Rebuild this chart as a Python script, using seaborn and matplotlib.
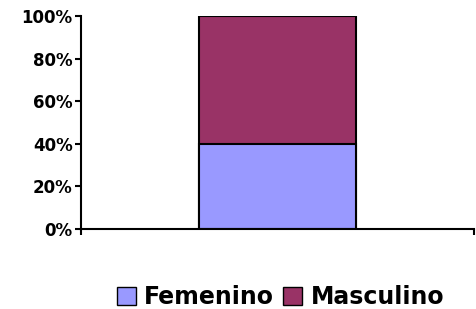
import matplotlib
matplotlib.use("Agg")
import matplotlib.pyplot as plt
import seaborn as sns
import pandas as pd
from matplotlib.patches import Patch
from matplotlib.ticker import FuncFormatter

# === Data ===
categories = [""]
femenino = [40]
masculino = [60]
series_names = ["Femenino", "Masculino"]
colors = ["#9999FF", "#993366"]
ytick_vals = [0, 20, 40, 60, 80, 100]

df = pd.DataFrame({"cat": categories, "Femenino": femenino, "Masculino": masculino})
df["total"] = df["Femenino"] + df["Masculino"]

sns.set_style("white")
plt.rcParams["font.family"] = ["DejaVu Sans"]
plt.rcParams["text.color"] = "black"
plt.rcParams["ytick.color"] = "black"
plt.rcParams["xtick.color"] = "black"

fig = plt.figure(figsize=(4.77, 3.09), dpi=100)
ax = fig.add_axes([0.170, 0.259, 0.824, 0.689])

# stacked: total first, then bottom series over it
sns.barplot(data=df, x="cat", y="total", color=colors[1], edgecolor="black",
            linewidth=1.5, width=0.4, saturation=1, ax=ax)
sns.barplot(data=df, x="cat", y="Femenino", color=colors[0], edgecolor="black",
            linewidth=1.5, width=0.4, saturation=1, ax=ax)

ax.set_xlim(-0.5, 0.5)
ax.set_ylim(0, 100)
ax.set_yticks(ytick_vals)
ax.yaxis.set_major_formatter(FuncFormatter(lambda v, p: f"{int(v)}%"))
ax.set_xticks([])
ax.set_xticks([-0.5, 0.5], minor=True)
ax.set_xlabel("")
ax.set_ylabel("")

for s in ["top", "right"]:
    ax.spines[s].set_visible(False)
for s in ["left", "bottom"]:
    ax.spines[s].set_linewidth(1.5)
    ax.spines[s].set_color("black")

ax.tick_params(axis="y", which="major", left=True, length=4, width=1.5,
               direction="out", labelsize=12, pad=2, labelcolor="black")
ax.tick_params(axis="x", which="minor", bottom=True, length=4, width=1.5, direction="out")
for lbl in ax.get_yticklabels():
    lbl.set_fontweight("bold")

handles = [Patch(facecolor=c, edgecolor="black", linewidth=1, label=n)
           for c, n in zip(colors, series_names)]
leg = fig.legend(handles=handles, loc="center", bbox_to_anchor=(0.588, 0.038), ncol=2,
                 frameon=False, handlelength=0.8, handleheight=0.8, handletextpad=0.35,
                 columnspacing=0.4, prop={"size": 17, "weight": "bold"})
for t in leg.get_texts():
    t.set_color("black")

fig.savefig("out.png", dpi=100)
